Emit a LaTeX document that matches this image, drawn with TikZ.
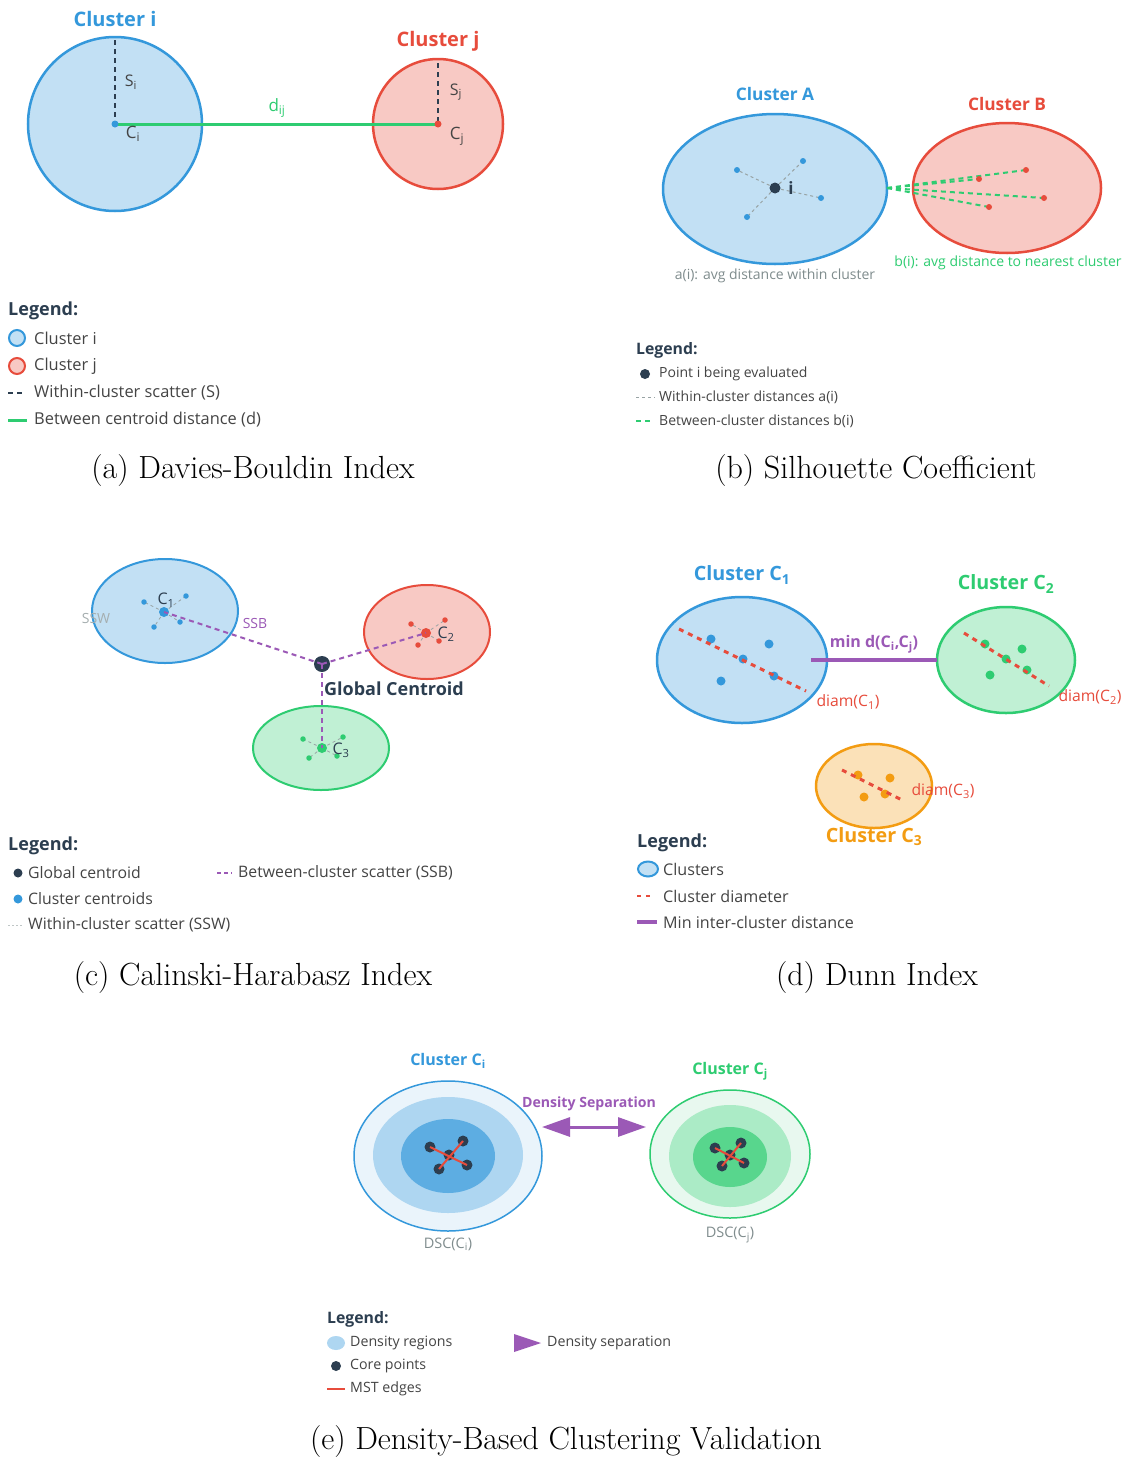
\documentclass[tikz,border=0pt]{standalone}
\usepackage{fontspec}
\newfontfamily\uif{Open Sans}
\usetikzlibrary{arrows.meta}
\definecolor{cblue}{HTML}{3498DB}
\definecolor{cbluef}{HTML}{C2E0F4}
\definecolor{cred}{HTML}{E74C3C}
\definecolor{credf}{HTML}{F8C9C4}
\definecolor{cgreen}{HTML}{2ECC71}
\definecolor{cgreenf}{HTML}{C0F0D4}
\definecolor{corange}{HTML}{F39C12}
\definecolor{corangef}{HTML}{FBE1B8}
\definecolor{cdark}{HTML}{2C3E50}
\definecolor{cpurple}{HTML}{9B59B6}
\definecolor{cgray}{HTML}{7F8C8D}
\definecolor{ctext}{HTML}{444444}
\definecolor{ebluea}{HTML}{EAF4FB}
\definecolor{eblueb}{HTML}{AED6F1}
\definecolor{ebluec}{HTML}{5DADE2}
\definecolor{egreena}{HTML}{E8F8EF}
\definecolor{egreenb}{HTML}{ABEBC6}
\definecolor{egreenc}{HTML}{58D68D}
\newcommand\fsz[1]{\uif\fontsize{#1}{#1}\selectfont}
\newcommand\sbs[1]{\textsubscript{#1}}
\tikzset{
  txt/.style={inner sep=0pt, text=ctext},
  ttl/.style={inner sep=0pt, font=\fsz{#1}\bfseries},
  lgd/.style={inner sep=0pt, anchor=west, text=ctext, font=\fsz{#1}},
  captxt/.style={inner sep=0pt, font=\fontsize{32}{36}\selectfont},
  dot/.style={circle, fill=#1, inner sep=0pt, minimum size=7pt},
  clu/.style={draw=#1, line width=2.5pt},
  scat/.style={cdark, line width=2pt, dash pattern=on 5pt off 4pt},
  wdot/.style={cgray!80, line width=1pt, dash pattern=on 3pt off 3pt},
  bdash/.style={cgreen, line width=2pt, dash pattern=on 5pt off 4pt},
  ssb/.style={cpurple, line width=2pt, dash pattern=on 5pt off 4pt},
  diam/.style={cred, line width=3pt, dash pattern=on 5pt off 5pt},
  mst/.style={cred, line width=2pt},
}
\begin{document}
\begin{tikzpicture}[x=1pt,y=-1pt]
\useasboundingbox[fill=white] (0,0) rectangle (1128,1459);

% ===================== (a) Davies-Bouldin =====================
\coordinate (aci) at (115,124);
\coordinate (acj) at (438,124);
\coordinate (asi) at (115,40);
\coordinate (asj) at (438,63);
\draw[clu=cblue, fill=cbluef] (aci) circle[radius=87pt];
\draw[clu=cred, fill=credf] (acj) circle[radius=65pt];
\draw[scat] (asi) -- (aci);
\draw[scat] (asj) -- (acj);
\draw[cgreen, line width=3pt] (aci) -- (acj);
\node[dot=cblue] (adci) at (aci) {};
\node[dot=cred] (adcj) at (acj) {};
\node[ttl=20, text=cblue] (atiti) at (115,19) {Cluster i};
\node[ttl=20, text=cred] (atitj) at (438,41) {Cluster j};
\node[txt, font=\fsz{16}] (asil) at (131,82) {S\sbs{i}};
\node[txt, font=\fsz{16}] (asjl) at (456,92) {S\sbs{j}};
\node[txt, font=\fsz{17}] (acil) at (133,134) {C\sbs{i}};
\node[txt, font=\fsz{17}] (acjl) at (457,136) {C\sbs{j}};
\node[txt, font=\fsz{17}, text=cgreen] (adij) at (277,108) {d\sbs{ij}};
% legend a
\node[ttl=18, anchor=west, text=cdark] (alegt) at (8,311) {Legend:};
\draw[clu=cblue, line width=2pt, fill=cbluef] (17,338) circle[radius=8pt];
\node[lgd=16.4] (al1) at (34,338) {Cluster i};
\draw[clu=cred, line width=2pt, fill=credf] (17,366) circle[radius=8pt];
\node[lgd=16.4] (al2) at (34,366) {Cluster j};
\coordinate (al3a) at (8,393); \coordinate (al3b) at (23,393);
\draw[scat] (al3a) -- (al3b);
\node[lgd=16.4] (al3) at (34,393) {Within-cluster scatter (S)};
\coordinate (al4a) at (8,420); \coordinate (al4b) at (27,420);
\draw[cgreen, line width=3pt] (al4a) -- (al4b);
\node[lgd=16.4] (al4) at (34,420) {Between centroid distance (d)};
\node[captxt] (capa) at (253,471) {(a) Davies-Bouldin Index};

% ===================== (b) Silhouette =====================
\draw[clu=cblue, fill=cbluef] (775,189) ellipse[x radius=112pt, y radius=75pt];
\draw[clu=cred, fill=credf] (1007,188) ellipse[x radius=94pt, y radius=65pt];
\coordinate (bi) at (775,188);
\coordinate (ba1) at (737,170);
\coordinate (ba2) at (803,161);
\coordinate (ba3) at (821,198);
\coordinate (ba4) at (747,217);
\coordinate (bb0) at (887,188);
\coordinate (bb1) at (979,179);
\coordinate (bb2) at (1026,170);
\coordinate (bb3) at (1044,198);
\coordinate (bb4) at (989,207);
\foreach \p in {ba1,ba2,ba3,ba4} \draw[wdot] (bi) -- (\p);
\foreach \p in {bb1,bb2,bb3,bb4} \draw[bdash] (bb0) -- (\p);
\foreach \p in {ba1,ba2,ba3,ba4} \node[dot=cblue, minimum size=6pt] (d\p) at (\p) {};
\foreach \p in {bb1,bb2,bb3,bb4} \node[dot=cred, minimum size=6pt] (d\p) at (\p) {};
\node[dot=cdark, minimum size=11pt] (bdi) at (bi) {};
\node[ttl=17, text=cdark] (bil) at (791,188) {i};
\node[ttl=17.3, text=cblue] (btA) at (775,94) {Cluster A};
\node[ttl=17.3, text=cred] (btB) at (1007,104) {Cluster B};
\node[txt, font=\fsz{14}, text=cgray] (bai) at (775,276) {a(i): avg distance within cluster};
\node[txt, font=\fsz{14}, text=cgreen] (bbi) at (1008,263) {b(i): avg distance to nearest cluster};
% legend b
\node[ttl=15.8, anchor=west, text=cdark] (blegt) at (636,350) {Legend:};
\node[dot=cdark, minimum size=10pt] (bl1d) at (645,374) {};
\node[lgd=14] (bl1) at (659,374) {Point i being evaluated};
\coordinate (bl2a) at (636,397); \coordinate (bl2b) at (655,397);
\draw[wdot] (bl2a) -- (bl2b);
\node[lgd=14] (bl2) at (659,397) {Within-cluster distances a(i)};
\coordinate (bl3a) at (636,421); \coordinate (bl3b) at (651,421);
\draw[bdash, line width=1.5pt] (bl3a) -- (bl3b);
\node[lgd=14] (bl3) at (659,421) {Between-cluster distances b(i)};
\node[captxt] (capb) at (876,471) {(b) Silhouette Coefficient};

% ===================== (c) Calinski-Harabasz =====================
\draw[clu=cblue, line width=2pt, fill=cbluef] (165,611) ellipse[x radius=73pt, y radius=52pt];
\draw[clu=cred, line width=2pt, fill=credf] (427,632) ellipse[x radius=63pt, y radius=47pt];
\draw[clu=cgreen, line width=2pt, fill=cgreenf] (321,748) ellipse[x radius=68pt, y radius=42pt];
\coordinate (cg) at (322,664);
\coordinate (c1) at (164,612);
\coordinate (c1a) at (144,602); \coordinate (c1b) at (186,596);
\coordinate (c1c) at (180,622); \coordinate (c1d) at (154,627);
\coordinate (c2) at (426,633);
\coordinate (c2a) at (411,624); \coordinate (c2b) at (445,620);
\coordinate (c2c) at (439,641); \coordinate (c2d) at (418,645);
\coordinate (c3) at (322,748);
\coordinate (c3a) at (303,739); \coordinate (c3b) at (343,737);
\coordinate (c3c) at (337,756); \coordinate (c3d) at (309,758);
\foreach \k in {1,2,3} {\foreach \p in {a,b,c,d} \draw[wdot, line width=0.8pt] (c\k) -- (c\k\p);}
\foreach \p in {a,b,c,d} \node[dot=cblue, minimum size=5.5pt] (dc1\p) at (c1\p) {};
\foreach \p in {a,b,c,d} \node[dot=cred, minimum size=5.5pt] (dc2\p) at (c2\p) {};
\foreach \p in {a,b,c,d} \node[dot=cgreen, minimum size=5.5pt] (dc3\p) at (c3\p) {};
\node[dot=cblue, minimum size=10pt] (dc1) at (c1) {};
\node[dot=cred, minimum size=10pt] (dc2) at (c2) {};
\node[dot=cgreen, minimum size=10pt] (dc3) at (c3) {};
\node[dot=cdark, minimum size=16pt] (dcg) at (cg) {};
\draw[ssb] (cg) -- (c1);
\draw[ssb] (cg) -- (c2);
\draw[ssb] (cg) -- (c3);
\node[txt, font=\fsz{16}, text=cdark] (cc1l) at (166,600) {C\sbs{1}};
\node[txt, font=\fsz{16}, text=cdark] (cc2l) at (446,634) {C\sbs{2}};
\node[txt, font=\fsz{16}, text=cdark] (cc3l) at (341,750) {C\sbs{3}};
\node[txt, font=\fsz{14}, text=cgray!70] (cssw) at (96,618) {SSW};
\node[txt, font=\fsz{14}, text=cpurple] (cssb) at (255,623) {SSB};
\node[ttl=18, text=cdark] (cgl) at (394,689) {Global Centroid};
% legend c
\node[ttl=18, anchor=west, text=cdark] (clegt) at (8,846) {Legend:};
\node[dot=cdark, minimum size=9pt] (cl1d) at (18,873) {};
\node[lgd=15.8] (cl1) at (28,873) {Global centroid};
\node[dot=cblue, minimum size=9pt] (cl2d) at (18,899) {};
\node[lgd=15.8] (cl2) at (28,899) {Cluster centroids};
\coordinate (cl3a) at (8,925); \coordinate (cl3b) at (22,925);
\draw[wdot, cgray!50, dash pattern=on 2pt off 2pt] (cl3a) -- (cl3b);
\node[lgd=15.8] (cl3) at (28,925) {Within-cluster scatter (SSW)};
\coordinate (cl4a) at (217,873); \coordinate (cl4b) at (232,873);
\draw[ssb, line width=1.5pt, dash pattern=on 4pt off 3pt] (cl4a) -- (cl4b);
\node[lgd=15.8] (cl4) at (238,873) {Between-cluster scatter (SSB)};
\node[captxt] (capc) at (253,978) {(c) Calinski-Harabasz Index};

% ===================== (d) Dunn =====================
\draw[clu=cblue, fill=cbluef] (742,660) ellipse[x radius=85pt, y radius=63pt];
\draw[clu=cgreen, fill=cgreenf] (1006,660) ellipse[x radius=69pt, y radius=53pt];
\draw[clu=corange, fill=corangef] (874,786) ellipse[x radius=58pt, y radius=42pt];
\coordinate (d1a) at (679,629); \coordinate (d1b) at (806,691);
\coordinate (d2a) at (964,633); \coordinate (d2b) at (1049,686);
\coordinate (d3a) at (842,770); \coordinate (d3b) at (904,801);
\coordinate (dm1) at (811,660); \coordinate (dm2) at (937,660);
\foreach \q/\c in {{711,639}/cblue,{769,644}/cblue,{743,659}/cblue,{774,676}/cblue,{721,681}/cblue,
  {985,644}/cgreen,{1022,649}/cgreen,{1006,659}/cgreen,{1027,670}/cgreen,{990,675}/cgreen,
  {858,775}/corange,{890,778}/corange,{864,797}/corange,{885,794}/corange}
  \node[dot=\c, minimum size=9pt] at (\q) {};
\draw[diam] (d1a) -- (d1b);
\draw[diam] (d2a) -- (d2b);
\draw[diam] (d3a) -- (d3b);
\draw[cpurple, line width=4pt] (dm1) -- (dm2);
\node[txt, font=\fsz{15.7}, text=cred] (dd1) at (848,702) {diam(C\sbs{1})};
\node[txt, font=\fsz{15.7}, text=cred] (dd2) at (1090,697) {diam(C\sbs{2})};
\node[txt, font=\fsz{15.7}, text=cred] (dd3) at (943,791) {diam(C\sbs{3})};
\node[ttl=16, text=cpurple] (dmin) at (874,644) {min d(C\sbs{i},C\sbs{j})};
\node[ttl=19.7, text=cblue] (dt1) at (742,575) {Cluster C\sbs{1}};
\node[ttl=19.7, text=cgreen] (dt2) at (1006,584) {Cluster C\sbs{2}};
\node[ttl=19.7, text=corange] (dt3) at (874,837) {Cluster C\sbs{3}};
% legend d
\node[ttl=18, anchor=west, text=cdark] (dlegt) at (637,843) {Legend:};
\draw[clu=cblue, line width=2pt, fill=cbluef] (648,869) ellipse[x radius=10pt, y radius=7.5pt];
\node[lgd=16.1] (dl1) at (663,869) {Clusters};
\coordinate (dl2a) at (637,896); \coordinate (dl2b) at (654,896);
\draw[diam, line width=2.5pt, dash pattern=on 4pt off 5pt] (dl2a) -- (dl2b);
\node[lgd=16.1] (dl2) at (663,896) {Cluster diameter};
\coordinate (dl3a) at (637,922); \coordinate (dl3b) at (657,922);
\draw[cpurple, line width=4pt] (dl3a) -- (dl3b);
\node[lgd=16.1] (dl3) at (663,922) {Min inter-cluster distance};
\node[captxt] (capd) at (877,978) {(d) Dunn Index};

% ===================== (e) Density-based =====================
\draw[cblue, line width=1.5pt, fill=ebluea] (448,1156) ellipse[x radius=94pt, y radius=75pt];
\fill[eblueb] (448,1155) ellipse[x radius=75pt, y radius=58pt];
\fill[ebluec] (448,1156) ellipse[x radius=47pt, y radius=37pt];
\draw[cgreen, line width=1.5pt, fill=egreena] (730,1154) ellipse[x radius=80pt, y radius=64pt];
\fill[egreenb] (730,1156) ellipse[x radius=61pt, y radius=51pt];
\fill[egreenc] (730,1157) ellipse[x radius=37pt, y radius=30pt];
\coordinate (ea1) at (430,1147); \coordinate (ea2) at (463,1141);
\coordinate (ea3) at (449,1155); \coordinate (ea4) at (467,1165);
\coordinate (ea5) at (439,1169);
\coordinate (eb1) at (715,1148); \coordinate (eb2) at (741,1143);
\coordinate (eb3) at (730,1155); \coordinate (eb4) at (744,1163);
\coordinate (eb5) at (722,1166);
\foreach \p in {1,...,5} \node[dot=cdark, minimum size=11pt] (dea\p) at (ea\p) {};
\foreach \p in {1,...,5} \node[dot=cdark, minimum size=11pt] (deb\p) at (eb\p) {};
\draw[mst] (ea1) -- (ea4); \draw[mst] (ea2) -- (ea5);
\draw[mst] (eb1) -- (eb4); \draw[mst] (eb2) -- (eb5);
\coordinate (earr1) at (542,1127); \coordinate (earr2) at (646,1127);
\draw[cpurple, line width=3pt, {Triangle[length=28pt, width=19pt]}-{Triangle[length=28pt, width=19pt]}] (earr1) -- (earr2);
\node[ttl=14.1, text=cpurple] (eds) at (589,1104) {Density Separation};
\node[ttl=16, text=cblue] (eti) at (448,1061) {Cluster C\sbs{i}};
\node[ttl=16, text=cgreen] (etj) at (730,1071) {Cluster C\sbs{j}};
\node[txt, font=\fsz{14.5}, text=cgray] (edi) at (448,1244) {DSC(C\sbs{i})};
\node[txt, font=\fsz{14.5}, text=cgray] (edj) at (730,1235) {DSC(C\sbs{j})};
% legend e
\node[ttl=15.8, anchor=west, text=cdark] (elegt) at (327,1319) {Legend:};
\fill[eblueb] (336,1343) ellipse[x radius=9pt, y radius=7pt];
\node[lgd=14.2] (el1) at (350,1343) {Density regions};
\node[dot=cdark, minimum size=10pt] (el2d) at (336,1366) {};
\node[lgd=14.2] (el2) at (350,1366) {Core points};
\coordinate (el3a) at (327,1389); \coordinate (el3b) at (345,1389);
\draw[mst, line width=2.5pt] (el3a) -- (el3b);
\node[lgd=14.2] (el3) at (350,1389) {MST edges};
\fill[cpurple] (514,1334) -- (541,1343) -- (514,1352) -- cycle;
\node[lgd=14.2] (el4) at (547,1343) {Density separation};
\node[captxt] (cape) at (566,1441) {(e) Density-Based Clustering Validation};
\end{tikzpicture}
\end{document}
